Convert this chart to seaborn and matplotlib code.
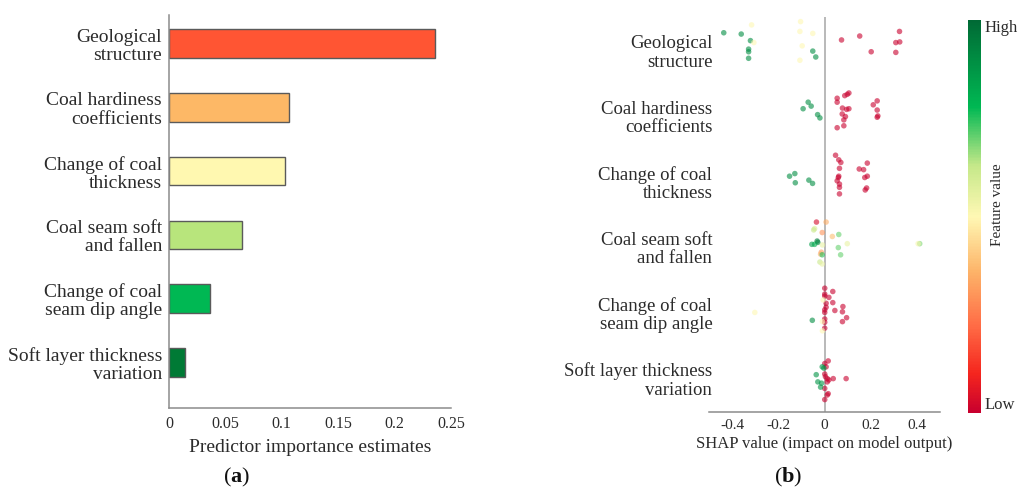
import numpy as np
import pandas as pd
import matplotlib
matplotlib.use("Agg")
import matplotlib.pyplot as plt
from matplotlib.colors import LinearSegmentedColormap, Normalize
from matplotlib.cm import ScalarMappable
import seaborn as sns

# ---------------------------------------------------------------- data
features = [
    "Geological\nstructure",
    "Coal hardiness\ncoefficients",
    "Change of coal\nthickness",
    "Coal seam soft\nand fallen",
    "Change of coal\nseam dip angle",
    "Soft layer thickness\nvariation",
]
importance = [0.236, 0.106, 0.103, 0.065, 0.036, 0.014]
bar_colors = ["#ff5533", "#fdb866", "#fff8b0", "#b8e57c", "#00b853", "#007a35"]

# SHAP values, normalised feature values and vertical jitter, one set per feature
geo_shap = [-0.438, -0.362, -0.322, -0.330, -0.330, -0.330, -0.051, -0.038,
            -0.317, -0.307, -0.104, -0.107, -0.051, -0.097, -0.107,
            0.074, 0.153, 0.203, 0.326, 0.310, 0.327, 0.310]
geo_value = [0.9] * 8 + [0.5] * 7 + [0.0] * 7
geo_jitter = [-0.27, -0.25, -0.15, -0.02, 0.02, 0.12, 0.01, 0.10,
              -0.39, -0.12, -0.44, -0.29, -0.26, -0.07, 0.15,
              -0.16, -0.22, 0.02, -0.29, -0.12, -0.13, 0.03]

hard_shap = [-0.093, -0.071, -0.058, -0.030, -0.020,
             0.055, 0.055, 0.088, 0.099, 0.106, 0.078, 0.096, 0.106, 0.077,
             0.091, 0.084, 0.055, 0.084, 0.212, 0.229, 0.229, 0.232, 0.229]
hard_value = [0.9] * 5 + [0.0] * 18
hard_jitter = [-0.11, -0.21, -0.15, -0.02, 0.03,
               -0.27, -0.21, -0.31, -0.33, -0.35, -0.12, -0.10, -0.11, -0.03,
               0.01, 0.06, 0.18, 0.15, -0.17, -0.23, -0.09, 0.00, 0.02]

thick_shap = [-0.152, -0.129, -0.127, -0.068, -0.052,
              0.048, 0.062, 0.071, 0.065, 0.062, 0.060, 0.055, 0.065, 0.065,
              0.065, 0.151, 0.170, 0.186, 0.186, 0.175, 0.183, 0.177]
thick_value = [0.9] * 5 + [0.0] * 17
thick_jitter = [-0.08, -0.12, 0.02, -0.02, 0.03,
                -0.40, -0.33, -0.29, -0.20, -0.08, -0.06, -0.01, 0.04, 0.09,
                0.19, -0.19, -0.18, -0.28, -0.08, -0.06, 0.10, 0.13]

soft_shap = [-0.035, 0.007, -0.043, -0.047, -0.010, 0.034, 0.062, -0.032,
             -0.029, -0.055, -0.043, -0.009, 0.099, 0.060, 0.414, 0.407,
             -0.014, -0.017, -0.010, 0.070, -0.020, -0.010]
soft_value = [0.03, 0.35, 0.58, 0.62, 0.30, 0.38, 0.70, 0.95,
              0.92, 0.85, 0.82, 0.55, 0.55, 0.70, 0.68, 0.52,
              0.32, 0.35, 0.75, 0.70, 0.62, 0.55]
soft_jitter = [-0.38, -0.38, -0.28, -0.26, -0.22, -0.16, -0.19, -0.09,
               -0.07, -0.04, -0.04, -0.03, -0.05, 0.01, -0.05, -0.05,
               0.08, 0.11, 0.12, 0.12, 0.23, 0.26]

dip_shap = [0.001, 0.001, 0.001, 0.019, 0.036, 0.036, 0.007, 0.007, 0.001,
            0.001, 0.045, 0.080, 0.078, 0.096, 0.078, 0.001, 0.001, 0.001,
            -0.006, -0.009, -0.009, -0.303, -0.053]
dip_value = [0.0] * 18 + [0.5] * 4 + [0.9]
dip_jitter = [-0.37, -0.28, -0.25, -0.23, -0.32, -0.15, -0.14, -0.08, -0.04,
              0.00, -0.03, -0.09, -0.01, 0.08, 0.14, 0.10, 0.15, 0.24,
              -0.19, 0.14, 0.28, 0.00, 0.12]

layer_shap = [0.016, 0.001, 0.007, 0.001, 0.004, 0.012, 0.019, 0.012, 0.038,
              0.094, 0.001, 0.016, 0.012, 0.001,
              -0.010, -0.003, -0.036, -0.029, -0.013, -0.017]
layer_value = [0.0] * 14 + [0.88] * 6
layer_jitter = [-0.26, -0.22, -0.17, -0.06, -0.02, 0.01, 0.03, 0.06, 0.01,
                0.01, 0.16, 0.24, 0.26, 0.33,
                -0.17, -0.15, -0.05, 0.06, 0.08, 0.14]

shap_groups = [
    (geo_shap, geo_value, geo_jitter),
    (hard_shap, hard_value, hard_jitter),
    (thick_shap, thick_value, thick_jitter),
    (soft_shap, soft_value, soft_jitter),
    (dip_shap, dip_value, dip_jitter),
    (layer_shap, layer_value, layer_jitter),
]

# ---------------------------------------------------------------- style
sns.set_theme(style="white")
plt.rcParams["font.family"] = ["Liberation Serif", "DejaVu Serif"]
plt.rcParams["mathtext.fontset"] = "custom"
plt.rcParams["mathtext.rm"] = "Liberation Serif"
plt.rcParams["mathtext.bf"] = "Liberation Serif:bold"
text_color = "#2b2b2b"
axis_color = "#8c8c8c"

shap_cmap = LinearSegmentedColormap.from_list(
    "feature_value",
    [(0.00, "#c8002e"), (0.10, "#f5261e"), (0.22, "#ff6b45"),
     (0.36, "#fdb469"), (0.50, "#fff8b4"), (0.63, "#c5e889"),
     (0.78, "#00b853"), (1.00, "#006a35")],
)

fig = plt.figure(figsize=(10.21, 4.88), dpi=100)

# ---------------------------------------------------------------- (a) bars
ax1 = fig.add_axes([0.1655, 0.1639, 0.2762, 0.8053])
bar_df = pd.DataFrame({"feature": features, "importance": importance})
sns.barplot(data=bar_df, x="importance", y="feature", hue="feature",
            palette=bar_colors, saturation=1, legend=False, width=0.45,
            edgecolor="#5a5a5a", linewidth=1.0, ax=ax1, orient="h")
ax1.set_xlim(0, 0.25)
ax1.set_ylim(5.713, -0.447)
ax1.set_xticks([0, 0.05, 0.1, 0.15, 0.2, 0.25])
ax1.set_xticklabels(["0", "0.05", "0.1", "0.15", "0.2", "0.25"])
ax1.set_xlabel("Predictor importance estimates", fontsize=14,
               color=text_color, labelpad=5)
ax1.set_ylabel("")
for s in ["top", "right"]:
    ax1.spines[s].set_visible(False)
for s in ["left", "bottom"]:
    ax1.spines[s].set_color(axis_color)
    ax1.spines[s].set_linewidth(1.1)
ax1.tick_params(axis="x", direction="inout", length=4, width=0.8,
                color=axis_color, labelsize=11.5, labelcolor=text_color, pad=4)
ax1.tick_params(axis="y", direction="in", length=4, width=0.8,
                color="#444444", labelsize=14, labelcolor=text_color, pad=5)
for lbl in ax1.get_yticklabels():
    lbl.set_linespacing(1.1)

# ---------------------------------------------------------------- (b) SHAP summary
rows = []
for i, (sv, fv, jit) in enumerate(shap_groups):
    for s, v, j in zip(sv, fv, jit):
        rows.append({"shap": s, "value": v, "row": i + j})
shap_df = pd.DataFrame(rows)

ax2 = fig.add_axes([0.6949, 0.1557, 0.2253, 0.8094])
ax2.axvline(0, color="#a6a6a6", lw=1.1, zorder=0)
sns.scatterplot(data=shap_df, x="shap", y="row", hue="value",
                palette=shap_cmap, hue_norm=(0, 1), legend=False,
                s=16, alpha=0.6, linewidth=0, ax=ax2, zorder=3)
ax2.set_xlim(-0.5, 0.5)
ax2.set_ylim(5.52, -0.51)
ax2.set_xticks([-0.4, -0.2, 0, 0.2, 0.4])
ax2.set_xticklabels(["-0.4", "-0.2", "0", "0.2", "0.4"])
ax2.set_yticks(range(len(features)))
ax2.set_yticklabels(features)
ax2.set_xlabel("SHAP value (impact on model output)", fontsize=12,
               color=text_color, labelpad=3)
ax2.set_ylabel("")
for s in ["top", "right", "left"]:
    ax2.spines[s].set_visible(False)
ax2.spines["bottom"].set_color(axis_color)
ax2.spines["bottom"].set_linewidth(1.1)
ax2.tick_params(axis="x", direction="in", length=5, width=0.8,
                color=axis_color, labelsize=11, labelcolor=text_color, pad=5)
ax2.tick_params(axis="y", length=0, labelsize=13.5, labelcolor=text_color,
                pad=-2)
for lbl in ax2.get_yticklabels():
    lbl.set_linespacing(1.1)

# colour bar for the feature value
cax = fig.add_axes([0.9485, 0.1537, 0.0125, 0.8053])
sm = ScalarMappable(norm=Normalize(0, 1), cmap=shap_cmap)
cb = fig.colorbar(sm, cax=cax)
cb.outline.set_visible(False)
cb.set_ticks([])
cax.text(1.25, 1.0, "High", transform=cax.transAxes, ha="left", va="top",
         fontsize=12, color=text_color)
cax.text(1.25, 0.0, "Low", transform=cax.transAxes, ha="left", va="bottom",
         fontsize=12, color=text_color)
fig.text(0.977, 0.58, "Feature value", rotation=90, ha="center", va="center",
         fontsize=11, color=text_color)

# panel captions
fig.text(0.232, 0.0225, r"($\mathbf{a}$)", ha="center", va="center",
         fontsize=16, color="#111111")
fig.text(0.772, 0.0225, r"($\mathbf{b}$)", ha="center", va="center",
         fontsize=16, color="#111111")

fig.savefig("out.png", dpi=100)
